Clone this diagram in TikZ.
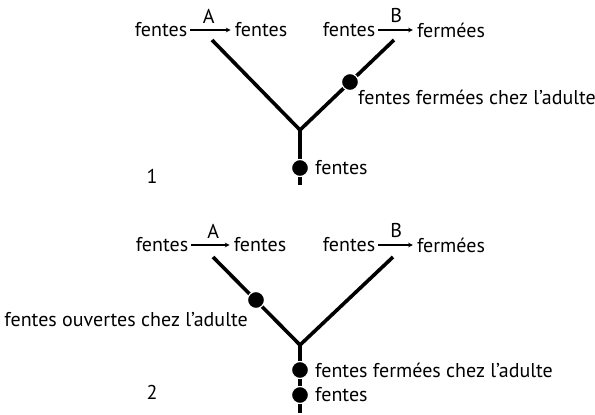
\documentclass[tikz,border=0pt]{standalone}
\usepackage{fontspec}
\setmainfont{PT Sans}
\usetikzlibrary{positioning}

\begin{document}
\begin{tikzpicture}[x=1pt, y=-1pt,
      >=stealth,
      font=\fontsize{20}{23}\selectfont,
      bullet/.style={
        fill=black,
        circle,
        draw=white,
        line width=1.2pt,
        minimum size=17pt,
        inner sep=0pt
      },
      branch/.style={
        line width=3.6pt
      },
      change/.style={
        ->,
        line width=1.1pt,
        shorten <=3pt,
        shorten >=4pt
      },
      word/.style={
        inner sep=0pt
      },
    ]
    \useasboundingbox (0, 0) rectangle (595, 415);

    % tree 1
    \node[word] (srcA1) at (161, 30) {fentes};
    \node[word] (dstA1) at (261, 30) {fentes};
    \node[word] (srcB1) at (349, 30) {fentes};
    \node[word] (dstB1) at (451, 30) {fermées};
    \draw [change] (srcA1) -- (dstA1)
          node [pos=0.45, above=3pt] {A};
    \draw [change] (srcB1) -- (dstB1)
          node [pos=0.5, above=3pt] {B};

    \coordinate (fork1) at (300, 130);
    \coordinate (left1) at (212, 40);
    \coordinate (right1) at (394, 40);
    \coordinate (root1) at (300, 185);
    \draw [branch] (left1) -- (fork1) -- (right1);
    \draw [branch] (fork1) -- (root1);
    \node [bullet] (closeB1) at (350, 82) {};
    \node [bullet] (base1) at (300, 168) {};
    \node [word, anchor=west] (closeB1txt) at (358, 97) {fentes fermées chez l’adulte};
    \node [word, anchor=west] (base1txt) at (315, 168) {fentes};
    \node [word] (num1) at (152, 176) {1};

    % tree 2
    \begin{scope}[yshift=-215pt]
      \node[word] (srcA2) at (162, 30) {fentes};
      \node[word] (dstA2) at (260, 30) {fentes};
      \node[word] (srcB2) at (349, 30) {fentes};
      \node[word] (dstB2) at (451, 30) {fermées};
      \draw [change] (srcA2) -- (dstA2)
            node [pos=0.55, above=3pt] {A};
      \draw [change] (srcB2) -- (dstB2)
            node [pos=0.5, above=3pt] {B};

      \coordinate (fork2) at (300, 130);
      \coordinate (left2) at (213, 42);
      \coordinate (right2) at (393, 42);
      \coordinate (root2) at (300, 198);
      \draw [branch] (left2) -- (fork2) -- (right2);
      \draw [branch] (fork2) -- (root2);
      \node [bullet] (openA2) at (256, 85) {};
      \node [bullet] (closeB2) at (300, 155) {};
      \node [bullet] (base2) at (300, 180) {};
      \node [word, anchor=east] (openA2txt) at (248, 105) {fentes ouvertes chez l’adulte};
      \node [word, anchor=west] (closeB2txt) at (315, 155) {fentes fermées chez l’adulte};
      \node [word, anchor=west] (base2txt) at (315, 180) {fentes};
      \node [word] (num2) at (152, 177) {2};
    \end{scope}
\end{tikzpicture}
\end{document}
